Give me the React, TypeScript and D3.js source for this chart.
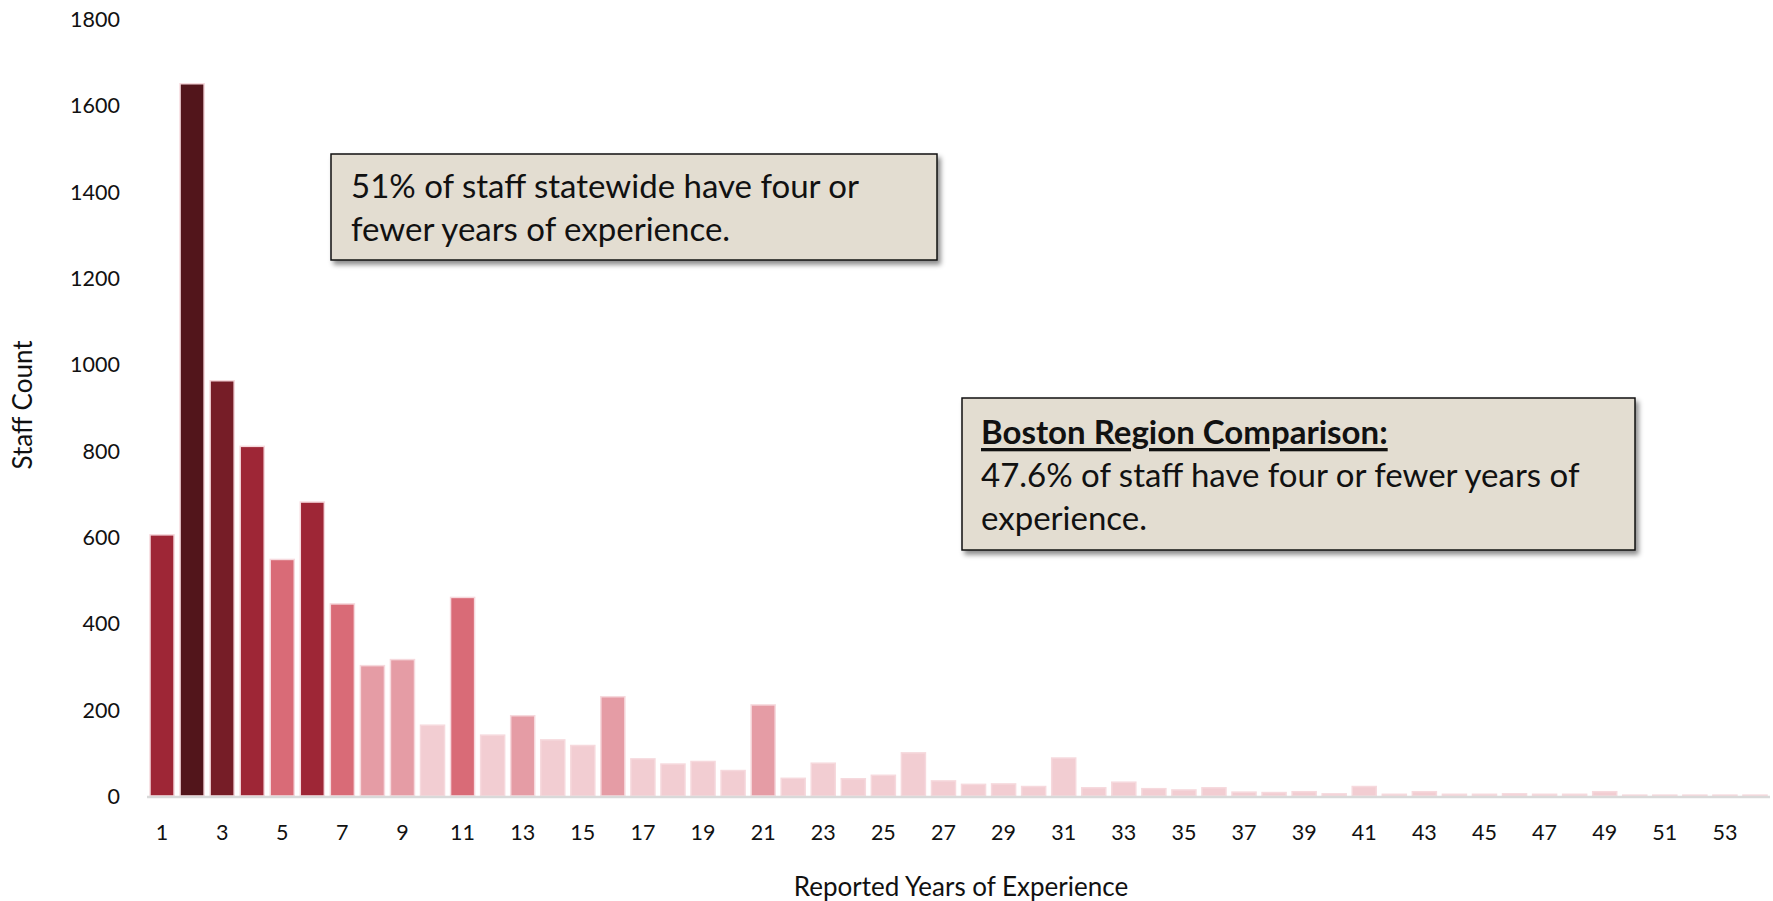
import React from 'react';
import * as d3 from 'd3';

const years = ['1','2','3','4','5','6','7','8','9','10','11','12','13','14','15','16','17','18','19','20','21','22','23','24','25','26','27','28','29','30','31','32','33','34','35','36','37','38','39','40','41','42','43','44','45','46','47','48','49','50','51','52','53','54'];
const staffCounts = [605,1650,962,810,548,681,445,302,316,164,460,141,186,130,117,230,86,74,80,59,211,41,76,40,48,100,35,27,28,22,88,19,32,17,14,19,9,8,10,5,22,4,10,4,4,5,4,4,10,2,2,2,2,2];
const yTicks = [0,200,400,600,800,1000,1200,1400,1600,1800];
const colorThresholds = [175,400,580,900,1300];
const colorRange = ['#f2cdd2','#e59ca5','#d96b77','#9e2636','#761d27','#52151b'];
const statewideNote = ['51% of staff statewide have four or', 'fewer years of experience.'];
const bostonTitle = 'Boston Region Comparison:';
const bostonNote = ['47.6% of staff have four or fewer years of', 'experience.'];

const W = 1773, H = 901;
const FONT = 'Lato, "Open Sans", sans-serif';

export default function App() {
  const x = d3.scaleBand<string>().domain(years).range([147, 1770]).paddingInner(0.2).paddingOuter(0.1);
  const y = d3.scaleLinear().domain([0, 1800]).range([796, 19]);
  const color = d3.scaleThreshold<number, string>().domain(colorThresholds).range(colorRange);
  const data = years.map((yr, i) => ({ yr, v: staffCounts[i] }));

  return (
    <div style={{ position: 'absolute', left: 0, top: 0 }}>
      <svg width={W} height={H} style={{ display: 'block', background: '#fff' }} fontFamily={FONT}>
        <defs>
          <filter id="shadow" x="-10%" y="-10%" width="130%" height="140%">
            <feDropShadow dx="3" dy="4" stdDeviation="2.5" floodColor="#000" floodOpacity="0.45" />
          </filter>
        </defs>
        {/* y tick labels */}
        {yTicks.map(t => (
          <text key={t} x={120} y={y(t)} textAnchor="end" dominantBaseline="central" fontSize={21.5} fill="#111">{t}</text>
        ))}
        {/* bars */}
        {data.map(d => (
          <rect key={d.yr} x={x(d.yr)} y={y(d.v)} width={x.bandwidth()} height={y(0) - y(d.v)}
            fill={color(d.v)} stroke="#f6d9dd" strokeWidth={1.5} />
        ))}
        {/* x axis line */}
        <line x1={147} x2={1770} y1={y(0) + 1} y2={y(0) + 1} stroke="#d9d9d9" strokeWidth={2.5} />
        {/* x tick labels */}
        {years.filter((_, i) => i % 2 === 0).map(yr => (
          <text key={yr} x={(x(yr) as number) + x.bandwidth() / 2} y={832} textAnchor="middle" dominantBaseline="central" fontSize={21.5} fill="#111">{yr}</text>
        ))}
        {/* axis titles */}
        <text x={961} y={886} textAnchor="middle" dominantBaseline="central" fontSize={26} fill="#111">Reported Years of Experience</text>
        <text transform="translate(22,405) rotate(-90)" textAnchor="middle" dominantBaseline="central" fontSize={26} fill="#111">Staff Count</text>

        {/* annotation 1 */}
        <rect x={331} y={154} width={606} height={106} fill="#e3ddd1" stroke="#111" strokeWidth={1.5} filter="url(#shadow)" />
        {statewideNote.map((s, i) => (
          <text key={i} x={351} y={185 + i * 43} dominantBaseline="central" fontSize={33} fill="#111">{s}</text>
        ))}

        {/* annotation 2 */}
        <rect x={962} y={398} width={673} height={152} fill="#e3ddd1" stroke="#111" strokeWidth={1.5} filter="url(#shadow)" />
        <text x={981} y={431} dominantBaseline="central" fontSize={33} fontWeight="bold" textDecoration="underline" fill="#111">{bostonTitle}</text>
        {bostonNote.map((s, i) => (
          <text key={i} x={981} y={474 + i * 43} dominantBaseline="central" fontSize={33} fill="#111">{s}</text>
        ))}
      </svg>
    </div>
  );
}
